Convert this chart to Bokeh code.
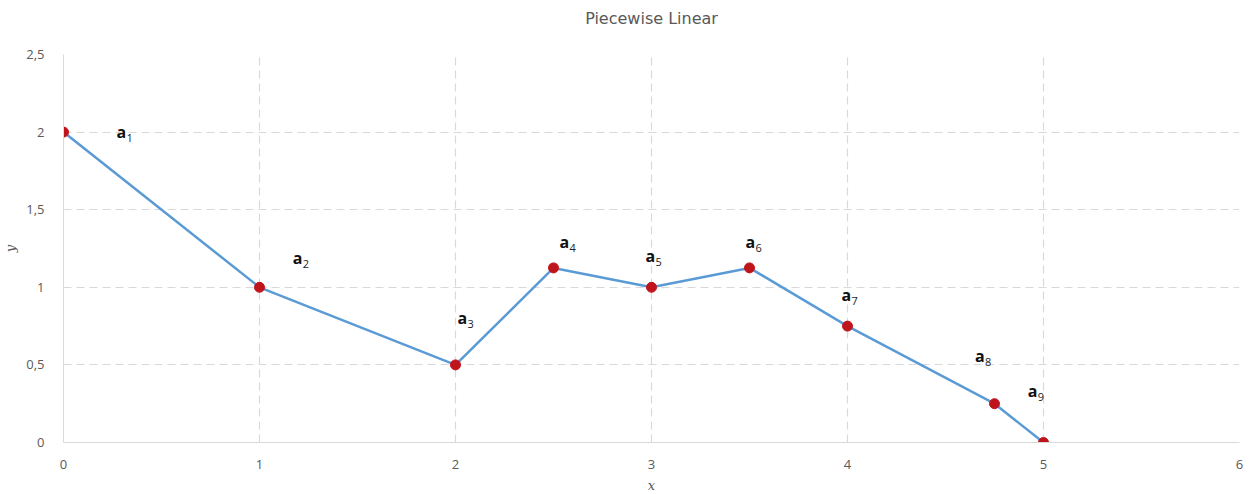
from bokeh.plotting import figure
from bokeh.models import Range1d, FixedTicker, ColumnDataSource, Title
from bokeh.core.properties import value
from bokeh.embed import file_html
from bokeh.resources import INLINE

title_text = "Piecewise Linear"
xs = [0, 1, 2, 2.5, 3, 3.5, 4, 4.75, 5]
ys = [2, 1, 0.5, 1.125, 1, 1.125, 0.75, 0.25, 0]
label_names = ["a", "a", "a", "a", "a", "a", "a", "a", "a"]
label_subs = ["1", "2", "3", "4", "5", "6", "7", "8", "9"]
label_x = [0.27, 1.17, 2.01, 2.53, 2.97, 3.48, 3.97, 4.65, 4.92]
label_y = [2.0, 1.19, 0.80, 1.29, 1.20, 1.29, 0.95, 0.56, 0.335]
x_ticks = [0, 1, 2, 3, 4, 5, 6]
y_ticks = [0, 0.5, 1, 1.5, 2, 2.5]
y_tick_labels = ["0", "0,5", "1", "1,5", "2", "2,5"]

p = figure(frame_width=1176, frame_height=388, output_backend="svg", toolbar_location=None,
           x_range=Range1d(0, 6), y_range=Range1d(0, 2.5), title=title_text,
           min_border_left=56, min_border_right=4, min_border_bottom=40, min_border_top=54)

p.title.align = "center"
p.title.text_font = "DejaVu Sans"
p.title.text_font_size = "16px"
p.title.text_font_style = "normal"
p.title.text_color = "#595959"
p.title.standoff = 0

spacer = Title(text=" ", text_font_size="22px", standoff=0)
p.add_layout(spacer, "above")

p.outline_line_color = None
p.background_fill_color = "white"

for ax in (p.xaxis[0], p.yaxis[0]):
    ax.axis_line_color = "#d9d9d9"
    ax.major_tick_line_color = None
    ax.minor_tick_line_color = None
    ax.major_label_text_font = "Open Sans"
    ax.major_label_text_font_size = "13px"
    ax.major_label_text_color = "#595959"
    ax.axis_label_text_font = "DejaVu Serif"
    ax.axis_label_text_font_style = "italic"
    ax.axis_label_text_font_size = "13px"
    ax.axis_label_text_color = "#595959"

p.xaxis.ticker = FixedTicker(ticks=x_ticks)
p.yaxis.ticker = FixedTicker(ticks=y_ticks)
p.yaxis.major_label_overrides = {t: l for t, l in zip(y_ticks, y_tick_labels)}
p.xaxis.axis_label = "x"
p.yaxis.axis_label = "y"
p.xaxis.major_label_standoff = 11
p.yaxis.major_label_standoff = 13
p.xaxis.axis_label_standoff = 6
p.yaxis.axis_label_standoff = 5

for g in (p.xgrid[0], p.ygrid[0]):
    g.grid_line_color = "#d9d9d9"
    g.grid_line_dash = "8 5"
    g.grid_line_width = 1.2

src = ColumnDataSource(dict(x=xs, y=ys))
p.line("x", "y", source=src, line_color="#5b9bd5", line_width=2.5)
p.scatter("x", "y", source=src, size=10, fill_color="#c0141c", line_color="#c0141c")

lsrc = ColumnDataSource(dict(x=label_x, y=label_y, t=label_names, s=label_subs))
p.text("x", "y", text="t", source=lsrc, text_font=value("Open Sans"), text_font_size="16px",
       text_font_style="bold", text_color="#111111", text_baseline="middle", text_align="left")
p.text("x", "y", text="s", source=lsrc, x_offset=10, y_offset=6, text_font=value("Open Sans"),
       text_font_size="11px", text_color="#222222", text_baseline="middle", text_align="left")

open("out.html", "w").write(file_html(p, INLINE))
